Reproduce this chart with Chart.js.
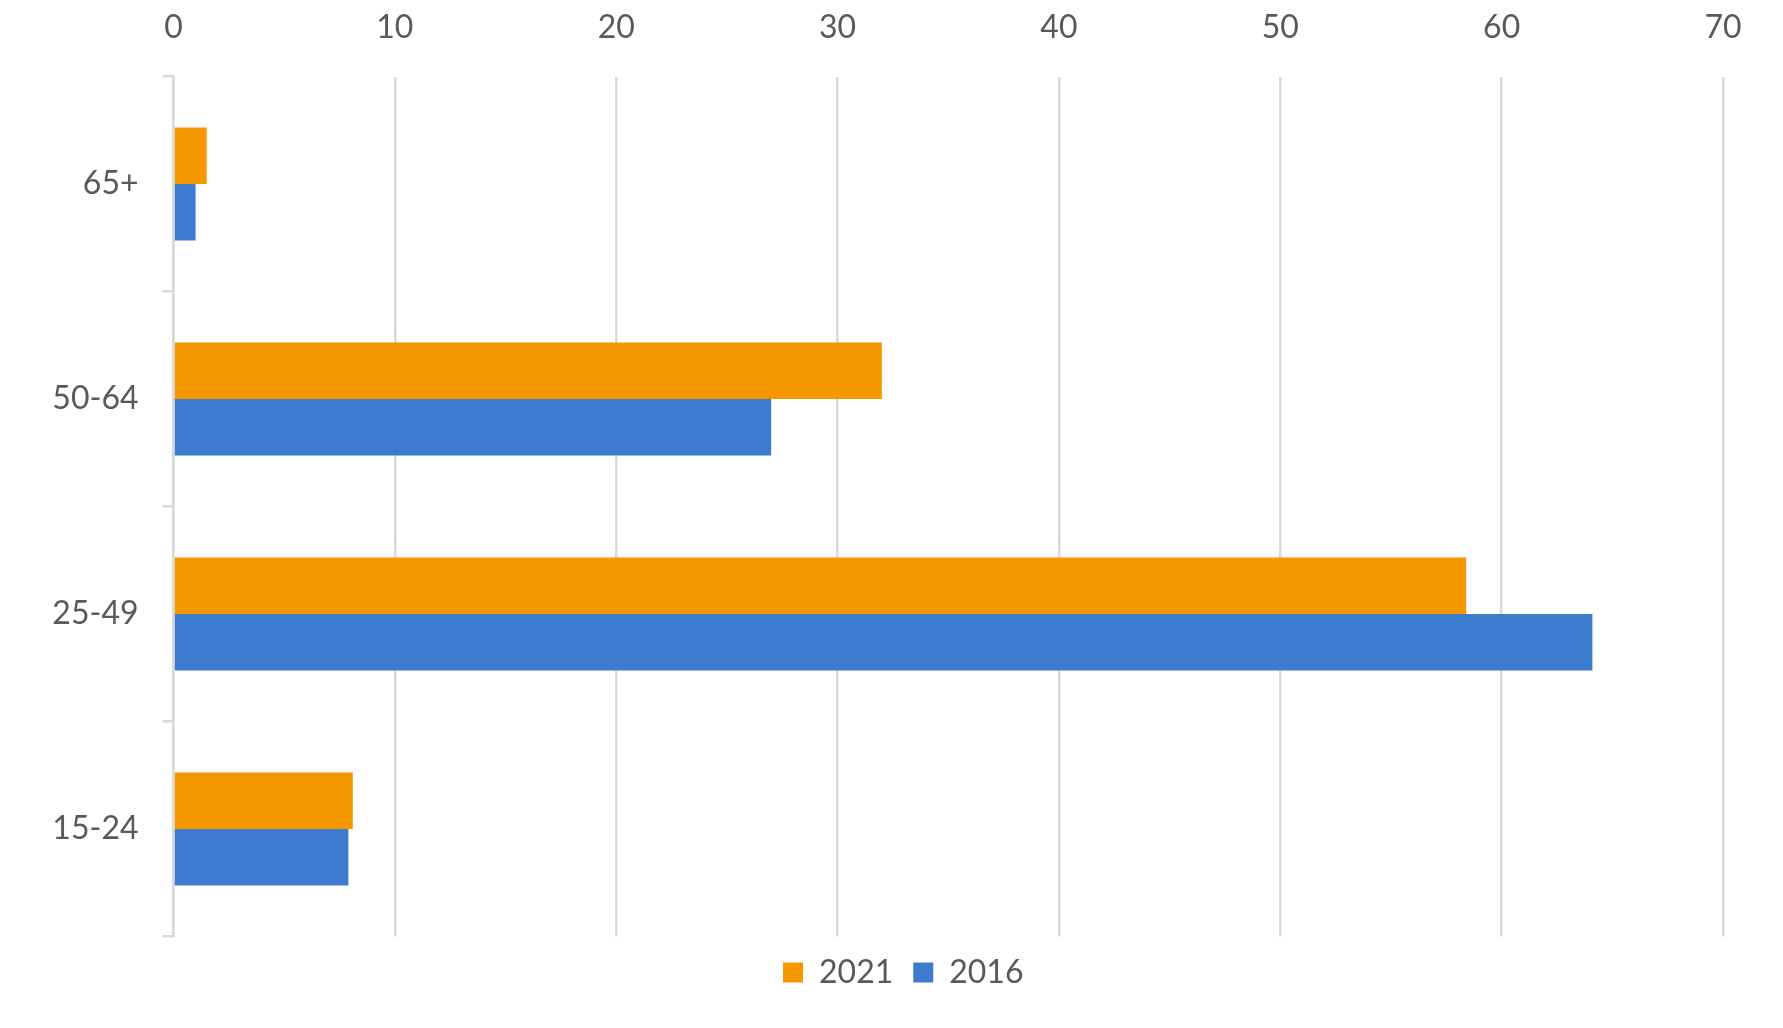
<!DOCTYPE html>
<html>
<head>
<meta charset="utf-8">
<script src="https://cdn.jsdelivr.net/npm/chart.js@4"></script>
<style>
  html, body { margin: 0; padding: 0; background: #ffffff; }
  #wrap { width: 1783px; height: 1028px; }
</style>
</head>
<body>
<div id="wrap"><canvas id="myChart" width="1783" height="1028"></canvas></div>
<script>
// age groups, top to bottom as in the picture
const ageGroups = ['65+', '50-64', '25-49', '15-24'];
const values2021 = [1.5, 32.0, 58.4, 8.1];
const values2016 = [1.0, 27.0, 64.1, 7.9];
const seriesNames = ['2021', '2016'];
const xTicks = [0, 10, 20, 30, 40, 50, 60, 70];

var textColor = '#595959';
var lineColor = '#d9d9d9';
var orange = '#f59800';
var blue = '#3d7bcf';

// the legend sits centred under the plot area, not the whole canvas
const legendShift = {
    id: 'legendShift',
    afterLayout: function(chart) {
        const area = chart.chartArea;
        const lg = chart.legend;
        const dx = (area.left + area.right) / 2 - (lg.left + lg.right) / 2 - 45;
        lg.left += dx;
        lg.right += dx;
    }
};

const ctx = document.getElementById('myChart').getContext('2d');
const chart = new Chart(ctx, {
    type: 'bar',
    data: {
        labels: ageGroups,
        datasets: [{
            label: seriesNames[0],
            data: values2021,
            backgroundColor: orange,
            borderWidth: 0
        }, {
            label: seriesNames[1],
            data: values2016,
            backgroundColor: blue,
            borderWidth: 0
        }]
    },
    plugins: [legendShift],
    options: {
        indexAxis: 'y',
        responsive: false,
        devicePixelRatio: 1,
        animation: false,
        categoryPercentage: 0.525,
        barPercentage: 1.0,
        layout: {
            padding: { top: 0, left: 0, right: 60, bottom: 29.5 }
        },
        font: { family: 'Lato', size: 32 },
        plugins: {
            tooltip: { enabled: false },
            legend: {
                position: 'bottom',
                labels: {
                    color: textColor,
                    boxWidth: 20,
                    boxHeight: 20,
                    padding: 20,
                    font: { family: 'Lato', size: 32 }
                }
            }
        },
        scales: {
            x: {
                position: 'top',
                min: xTicks[0],
                max: xTicks[xTicks.length - 1],
                afterBuildTicks: function(scale) {
                    scale.ticks = xTicks.map(v => ({ value: v }));
                },
                afterFit: function(scale) {
                    scale.height = 76.5;
                },
                border: { display: false },
                grid: {
                    color: lineColor,
                    lineWidth: 2.5,
                    drawTicks: false
                },
                ticks: {
                    color: textColor,
                    padding: 30,
                    font: { family: 'Lato', size: 32 }
                }
            },
            y: {
                afterFit: function(scale) {
                    scale.width = 173.5;
                },
                border: {
                    display: true,
                    color: lineColor,
                    width: 2.5
                },
                grid: {
                    offset: true,
                    drawOnChartArea: false,
                    drawTicks: true,
                    tickLength: 11,
                    color: lineColor,
                    lineWidth: 2.5
                },
                ticks: {
                    color: textColor,
                    padding: 24,
                    font: { family: 'Lato', size: 32 }
                }
            }
        }
    }
});
</script>
</body>
</html>
